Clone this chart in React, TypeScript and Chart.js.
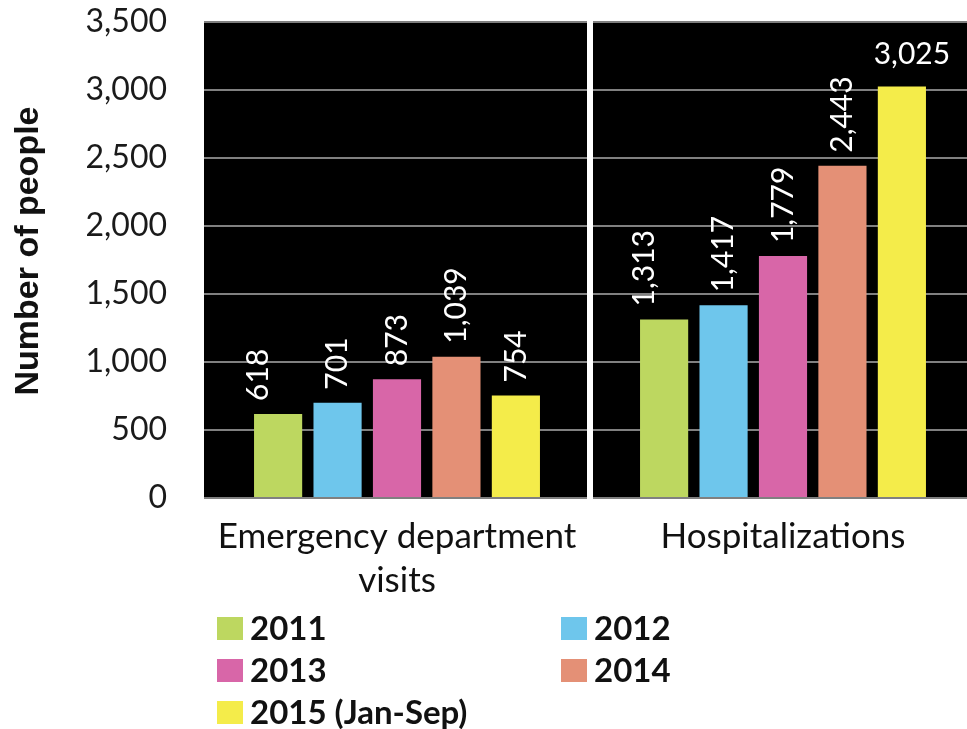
import React, { useEffect, useRef } from 'react';
import { Chart, registerables } from 'chart.js';

Chart.register(...registerables);

// ---- data ----
const categories: (string | string[])[] = [['Emergency department', 'visits'], 'Hospitalizations'];
const seriesLabels = ['2011', '2012', '2013', '2014', '2015 (Jan-Sep)'];
const values2011 = [618, 1313];
const values2012 = [701, 1417];
const values2013 = [873, 1779];
const values2014 = [1039, 2443];
const values2015 = [754, 3025];
const seriesColors = ['#BDD760', '#6EC6EC', '#D866A8', '#E49076', '#F4EC4A'];
const yMin = 0;
const yMax = 3500;
const yStep = 500;
const yTitle = 'Number of people';

const seriesValues = [values2011, values2012, values2013, values2014, values2015];

const fmt = (v: number) => v.toLocaleString('en-US');

const backgroundPlugin = {
  id: 'panelBackground',
  beforeDraw(chart: any) {
    const { ctx, chartArea } = chart;
    ctx.save();
    ctx.fillStyle = '#000000';
    ctx.fillRect(chartArea.left, chartArea.top, chartArea.right - chartArea.left, chartArea.bottom - chartArea.top);
    ctx.restore();
  },
};

const separatorPlugin = {
  id: 'panelSeparator',
  beforeDatasetsDraw(chart: any) {
    const { ctx, chartArea } = chart;
    const xs = chart.scales.x;
    ctx.save();
    ctx.fillStyle = '#ffffff';
    for (let i = 0; i < categories.length - 1; i++) {
      const bx = (xs.getPixelForValue(i) + xs.getPixelForValue(i + 1)) / 2;
      ctx.fillRect(bx - 3, chartArea.top - 2, 6, chartArea.bottom - chartArea.top + 4);
    }
    ctx.restore();
  },
};

const dataLabelPlugin = {
  id: 'barValueLabels',
  afterDatasetsDraw(chart: any) {
    const { ctx, chartArea } = chart;
    ctx.save();
    ctx.font = '30px Lato';
    ctx.fillStyle = '#ffffff';
    chart.data.datasets.forEach((ds: any, di: number) => {
      const meta = chart.getDatasetMeta(di);
      const dx = ds.labelDx || 0;
      meta.data.forEach((bar: any, i: number) => {
        const text = fmt(ds.data[i]);
        const w = ctx.measureText(text).width;
        const gap = 13;
        if (bar.y - gap - w >= chartArea.top + 4) {
          ctx.save();
          ctx.translate(bar.x + dx, bar.y - gap);
          ctx.rotate(-Math.PI / 2);
          ctx.textAlign = 'left';
          ctx.textBaseline = 'middle';
          ctx.fillText(text, 0, 0);
          ctx.restore();
        } else {
          ctx.textAlign = 'center';
          ctx.textBaseline = 'alphabetic';
          ctx.fillText(text, bar.x + 10, bar.y - 23);
        }
      });
    });
    ctx.restore();
  },
};

const axisTitlePlugin = {
  id: 'yAxisTitle',
  afterDraw(chart: any) {
    const { ctx, chartArea } = chart;
    ctx.save();
    ctx.translate(29, (chartArea.top + chartArea.bottom) / 2 - 9);
    ctx.rotate(-Math.PI / 2);
    ctx.font = 'bold 34px "Liberation Sans"';
    ctx.fillStyle = '#111111';
    ctx.textAlign = 'center';
    ctx.textBaseline = 'middle';
    ctx.fillText(yTitle, 0, 0);
    ctx.restore();
  },
};

const legendPlugin = {
  id: 'gridLegend',
  afterDraw(chart: any) {
    const { ctx } = chart;
    const cols = [217, 561];
    const rows = [628, 670, 712];
    ctx.save();
    chart.data.datasets.forEach((ds: any, i: number) => {
      const x = cols[i % 2];
      const y = rows[Math.floor(i / 2)];
      ctx.fillStyle = ds.backgroundColor;
      ctx.fillRect(x, y - 11, 26, 23);
      ctx.fillStyle = '#111111';
      ctx.font = 'bold 33px Lato';
      ctx.textAlign = 'left';
      ctx.textBaseline = 'middle';
      ctx.fillText(ds.label, x + 33, y + 1);
    });
    ctx.restore();
  },
};

export default function App() {
  const canvasRef = useRef<HTMLCanvasElement | null>(null);

  useEffect(() => {
    if (!canvasRef.current) return;
    const chart = new Chart(canvasRef.current, {
      type: 'bar',
      data: {
        labels: categories as any,
        datasets: seriesLabels.map((label, i) => ({
          label,
          data: seriesValues[i],
          backgroundColor: seriesColors[i],
          borderWidth: 0,
          categoryPercentage: 0.77,
          barPercentage: 0.81,
          labelDx: i === 0 ? -20 : 0,
        })) as any,
      },
      options: {
        responsive: false,
        animation: false,
        layout: { padding: { top: 22, right: 6, bottom: 121, left: 0 } },
        plugins: {
          legend: { display: false },
          tooltip: { enabled: false },
        },
        scales: {
          x: {
            grid: { display: false },
            border: { display: false },
            ticks: {
              color: '#111111',
              font: { family: 'Lato', size: 35, lineHeight: 1.25 },
              padding: 9,
              maxRotation: 0,
              minRotation: 0,
              autoSkip: false,
            },
            afterFit: (scale: any) => {
              scale.height = 110;
              scale.paddingTop = 0;
              scale.paddingBottom = 0;
            },
          },
          y: {
            min: yMin,
            max: yMax,
            grid: { color: '#808080', lineWidth: 2, drawTicks: false },
            border: { display: false },
            ticks: {
              stepSize: yStep,
              color: '#1a1a1a',
              font: { family: 'Lato', size: 32 },
              padding: 37,
              callback: (v: any) => fmt(Number(v)),
            },
            title: { display: false },
            afterFit: (scale: any) => {
              scale.width = 204;
              scale.paddingTop = 0;
              scale.paddingBottom = 0;
            },
          },
        },
      },
      plugins: [backgroundPlugin, separatorPlugin, dataLabelPlugin, axisTitlePlugin, legendPlugin],
    });
    return () => chart.destroy();
  }, []);

  return (
    <div style={{ position: 'absolute', left: 0, top: 0, width: 967, height: 729, overflow: 'hidden', background: '#ffffff' }}>
      <canvas ref={canvasRef} width={982} height={729} style={{ width: 982, height: 729, display: 'block' }} />
    </div>
  );
}
